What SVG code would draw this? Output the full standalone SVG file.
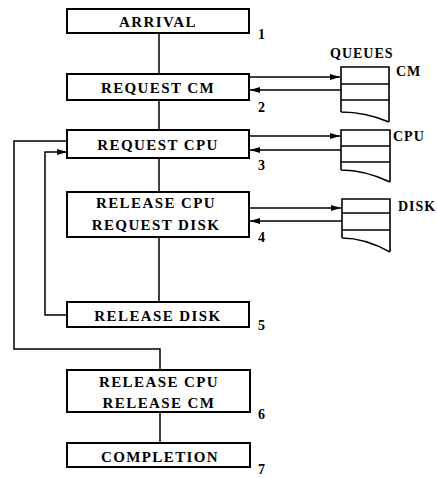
<svg xmlns="http://www.w3.org/2000/svg" width="437" height="478" viewBox="0 0 437 478">
<style>
.box{fill:#fff;stroke:#000;stroke-width:2}
.ln{fill:none;stroke:#000;stroke-width:1.5}
.q{fill:none;stroke:#000;stroke-width:1.6}
.t{font-family:"Liberation Serif",serif;font-weight:bold;font-size:15px;letter-spacing:1.4px;text-anchor:middle;fill:#000}
.n{font-family:"Liberation Serif",serif;font-weight:bold;font-size:14px;fill:#000}
.ql{font-family:"Liberation Serif",serif;font-weight:bold;font-size:14px;letter-spacing:1px;fill:#000}
</style>
<defs>
<marker id="ah" viewBox="0 0 10 8" refX="10" refY="4" markerWidth="10" markerHeight="8" markerUnits="userSpaceOnUse" orient="auto">
<path d="M0,1 L10,4 L0,7 z" fill="#000"/>
</marker>
</defs>
<rect width="437" height="478" fill="#fff"/>
<g id="connectors">
<line class="ln" x1="159" y1="33" x2="159" y2="74"/>
<line class="ln" x1="159" y1="100" x2="159" y2="130"/>
<line class="ln" x1="159" y1="158" x2="159" y2="192"/>
<line class="ln" x1="159" y1="237" x2="159" y2="302"/>
<line class="ln" x1="160" y1="412" x2="160" y2="443"/>
<polyline class="ln" points="67,315 45,315 45,152 67,152" marker-end="url(#ah)"/>
<polyline class="ln" points="67,141 14,141 14,349 160,349 160,370"/>
<line class="ln" x1="249" y1="77" x2="340" y2="77" marker-end="url(#ah)"/>
<line class="ln" x1="341" y1="90" x2="250" y2="90" marker-end="url(#ah)"/>
<line class="ln" x1="249" y1="136" x2="340" y2="136" marker-end="url(#ah)"/>
<line class="ln" x1="341" y1="150" x2="250" y2="150" marker-end="url(#ah)"/>
<line class="ln" x1="249" y1="208" x2="341" y2="208" marker-end="url(#ah)"/>
<line class="ln" x1="342" y1="221" x2="250" y2="221" marker-end="url(#ah)"/>
</g>
<g id="n1">
<rect class="box" x="67" y="9" width="182" height="24"/>
<text class="t" x="158" y="27">ARRIVAL</text>
<text class="n" x="258" y="39">1</text>
</g>
<g id="n2">
<rect class="box" x="67" y="74" width="182" height="26"/>
<text class="t" x="158" y="93">REQUEST CM</text>
<text class="n" x="258" y="112">2</text>
</g>
<g id="n3">
<rect class="box" x="67" y="130" width="182" height="28"/>
<text class="t" x="158" y="150">REQUEST CPU</text>
<text class="n" x="258" y="170">3</text>
</g>
<g id="n4">
<rect class="box" x="67" y="192" width="182" height="45"/>
<text class="t" x="156" y="208">RELEASE CPU</text>
<text class="t" x="156" y="230">REQUEST DISK</text>
<text class="n" x="258" y="242">4</text>
</g>
<g id="n5">
<rect class="box" x="67" y="302" width="182" height="25"/>
<text class="t" x="158" y="321">RELEASE DISK</text>
<text class="n" x="258" y="330">5</text>
</g>
<g id="n6">
<rect class="box" x="67" y="370" width="183" height="42"/>
<text class="t" x="159" y="387">RELEASE CPU</text>
<text class="t" x="159" y="408">RELEASE CM</text>
<text class="n" x="258" y="419">6</text>
</g>
<g id="n7">
<rect class="box" x="67" y="443" width="183" height="24"/>
<text class="t" x="160" y="462">COMPLETION</text>
<text class="n" x="258" y="474">7</text>
</g>
<g id="queues">
<text class="ql" x="330" y="58">QUEUES</text>
<g id="qcm">
<path class="q" d="M341,112 V67 H389 V122 M341,84 H389 M341,100 H389 M341,112 C356,112 370,114 389,122"/>
<text class="ql" x="396" y="76">CM</text>
</g>
<g id="qcpu">
<path class="q" d="M341,170 V130 H390 V182 M341,146 H390 M341,162 H390 M341,170 C356,170 371,173 390,182"/>
<text class="ql" x="393" y="141">CPU</text>
</g>
<g id="qdisk">
<path class="q" d="M342,238 V199 H390 V252 M342,213 H390 M342,230 H390 M342,238 C357,238 372,242 390,252"/>
<text class="ql" x="398" y="211">DISK</text>
</g>
</g>
</svg>
